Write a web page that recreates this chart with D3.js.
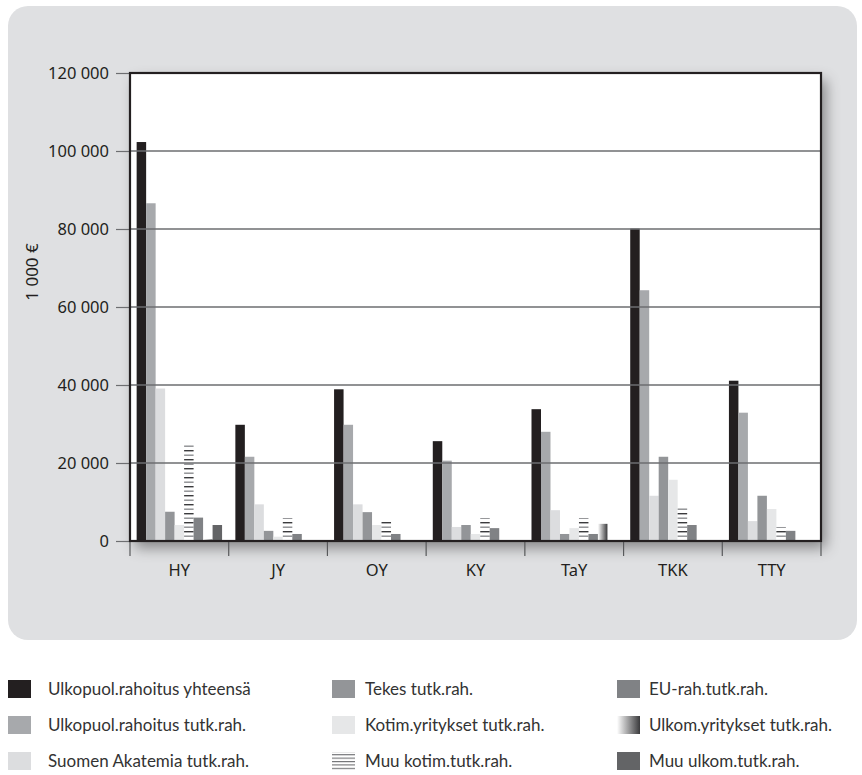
<!DOCTYPE html>
<html>
<head>
<meta charset="utf-8">
<script src="https://cdnjs.cloudflare.com/ajax/libs/d3/7.8.5/d3.min.js"></script>
<style>
  html, body { margin: 0; padding: 0; background: #ffffff; }
  svg { display: block; }
</style>
</head>
<body>
<svg id="chart" width="862" height="775"></svg>
<script>
// Universities (x categories)
const universities = ["HY", "JY", "OY", "KY", "TaY", "TKK", "TTY"];

// Funding sources, in drawing / legend order
const seriesNames = [
  "Ulkopuol.rahoitus yhteensä",
  "Ulkopuol.rahoitus tutk.rah.",
  "Suomen Akatemia tutk.rah.",
  "Tekes tutk.rah.",
  "Kotim.yritykset tutk.rah.",
  "Muu kotim.tutk.rah.",
  "EU-rah.tutk.rah.",
  "Ulkom.yritykset tutk.rah.",
  "Muu ulkom.tutk.rah."
];

// Values in 1 000 €, one array per funding source (HY, JY, OY, KY, TaY, TKK, TTY)
const ulkopuolYhteensa = [102300, 29800, 38900, 25600, 33800, 80100, 41100];
const ulkopuolTutk     = [86600, 21600, 29800, 20600, 28000, 64300, 32900];
const suomenAkatemia   = [39100, 9400, 9400, 3600, 7900, 11600, 5100];
const tekes            = [7500, 2600, 7400, 4100, 1800, 21600, 11600];
const kotimYritykset   = [4100, 1100, 4100, 1800, 3300, 15700, 8200];
const muuKotim         = [25100, 5900, 4900, 5900, 5900, 8500, 3600];
const euRah            = [6000, 1800, 1800, 3300, 1800, 4100, 2600];
const ulkomYritykset   = [400, 0, 0, 0, 4400, 0, 0];
const muuUlkom         = [4100, 0, 0, 0, 0, 0, 0];

const seriesValues = [
  ulkopuolYhteensa, ulkopuolTutk, suomenAkatemia, tekes, kotimYritykset,
  muuKotim, euRah, ulkomYritykset, muuUlkom
];

// Axis ticks
const yTicks = [0, 20000, 40000, 60000, 80000, 100000, 120000];
const yLabel = "1 000 €";

const svg = d3.select("#chart");
const defs = svg.append("defs");

// Horizontal line hatching for "Muu kotim."
const hatch = defs.append("pattern")
  .attr("id", "hatch").attr("patternUnits", "userSpaceOnUse")
  .attr("width", 12).attr("height", 9);
hatch.append("rect").attr("width", 12).attr("height", 9).attr("fill", "#ffffff");
hatch.append("rect").attr("y", 0).attr("width", 12).attr("height", 1.4).attr("fill", "#3b3b3d");
hatch.append("rect").attr("y", 4.5).attr("width", 12).attr("height", 1.4).attr("fill", "#8c8d90");

const hatchLegend = defs.append("pattern")
  .attr("id", "hatchLegend").attr("patternUnits", "userSpaceOnUse")
  .attr("width", 12).attr("height", 3.4);
hatchLegend.append("rect").attr("width", 12).attr("height", 3.4).attr("fill", "#ffffff");
hatchLegend.append("rect").attr("width", 12).attr("height", 1.1).attr("fill", "#6d6e71");

// White-to-dark gradient for "Ulkom.yritykset"
const grad = defs.append("linearGradient").attr("id", "ulkomGrad")
  .attr("x1", "0%").attr("x2", "100%").attr("y1", "0%").attr("y2", "0%");
grad.append("stop").attr("offset", "0%").attr("stop-color", "#ffffff");
grad.append("stop").attr("offset", "100%").attr("stop-color", "#3a3a3c");

// Soft shadow under the plot frame
const shadow = defs.append("filter").attr("id", "frameShadow")
  .attr("x", "-10%").attr("y", "-10%").attr("width", "130%").attr("height", "130%");
shadow.append("feDropShadow")
  .attr("dx", 5).attr("dy", 7).attr("stdDeviation", 7)
  .attr("flood-color", "#000000").attr("flood-opacity", 0.4);

const fills = [
  "#231f20", "#a7a9ac", "#dcdddf", "#939598", "#e6e7e8",
  "url(#hatch)", "#808285", "url(#ulkomGrad)", "#636466"
];
const legendFills = fills.slice();
legendFills[5] = "url(#hatchLegend)";

// Grey rounded panel behind the chart
svg.append("rect")
  .attr("x", 8).attr("y", 6).attr("width", 849).attr("height", 634)
  .attr("rx", 20).attr("ry", 20)
  .attr("fill", "#dfe0e2");

const plot = { left: 130, right: 821, top: 73, bottom: 541 };

const x0 = d3.scaleBand().domain(universities)
  .range([plot.left, plot.right]).paddingInner(0).paddingOuter(0);
const x1 = d3.scaleBand().domain(d3.range(seriesNames.length))
  .range([0, x0.bandwidth()]).paddingInner(0).paddingOuter(0.7);
const y = d3.scaleLinear().domain([0, 120000]).range([plot.bottom, plot.top]);

// Plot background with shadow
svg.append("rect")
  .attr("x", plot.left).attr("y", plot.top)
  .attr("width", plot.right - plot.left).attr("height", plot.bottom - plot.top)
  .attr("fill", "#ffffff")
  .attr("filter", "url(#frameShadow)");

// Bars
const groups = svg.append("g").selectAll("g")
  .data(universities)
  .join("g")
  .attr("transform", d => `translate(${x0(d)},0)`);

groups.selectAll("rect")
  .data((d, i) => seriesValues.map((vals, s) => ({ s, v: vals[i] })))
  .join("rect")
  .attr("x", d => x1(d.s))
  .attr("width", x1.bandwidth())
  .attr("y", d => y(d.v))
  .attr("height", d => y(0) - y(d.v))
  .attr("fill", d => fills[d.s]);

// Horizontal grid lines, drawn over the bars
svg.append("g").selectAll("line")
  .data(yTicks.filter(t => t > 0 && t < 120000))
  .join("line")
  .attr("x1", plot.left).attr("x2", plot.right)
  .attr("y1", d => y(d)).attr("y2", d => y(d))
  .attr("stroke", "#6d6e71").attr("stroke-width", 1.3);

// Y axis
const fmt = d3.formatLocale({ decimal: ",", thousands: "\u00a0", grouping: [3], currency: ["", " €"] }).format(",d");
const yAxis = d3.axisLeft(y).tickValues(yTicks).tickSize(14).tickPadding(7)
  .tickFormat(d => fmt(d));
const yG = svg.append("g").attr("transform", `translate(${plot.left},0)`).call(yAxis);
yG.select(".domain").remove();
yG.selectAll(".tick line").attr("stroke", "#6d6e71").attr("stroke-width", 1.2);
yG.selectAll(".tick text")
  .attr("fill", "#231f20")
  .style("font-family", "'Noto Sans', sans-serif")
  .style("font-size", "16.5px");

// X axis: ticks at group boundaries, labels centred under groups
const boundaries = universities.map(u => x0(u)).concat([plot.right]);
svg.append("g").selectAll("line")
  .data(boundaries)
  .join("line")
  .attr("x1", d => d).attr("x2", d => d)
  .attr("y1", plot.bottom).attr("y2", plot.bottom + 15)
  .attr("stroke", "#58595b").attr("stroke-width", 1.2);

svg.append("g").selectAll("text")
  .data(universities)
  .join("text")
  .attr("x", d => x0(d) + x0.bandwidth() / 2)
  .attr("y", 576)
  .attr("text-anchor", "middle")
  .attr("fill", "#231f20")
  .style("font-family", "'Noto Sans', sans-serif")
  .style("font-size", "16.5px")
  .text(d => d);

// Plot frame
svg.append("rect")
  .attr("x", plot.left).attr("y", plot.top)
  .attr("width", plot.right - plot.left).attr("height", plot.bottom - plot.top)
  .attr("fill", "none").attr("stroke", "#231f20").attr("stroke-width", 2.2);

// Y axis title
svg.append("text")
  .attr("transform", "translate(38,272) rotate(-90)")
  .attr("text-anchor", "middle")
  .attr("fill", "#231f20")
  .style("font-family", "'Noto Sans', sans-serif")
  .style("font-size", "17px")
  .text(yLabel);

// Legend: three columns, three rows
const legendCols = [8, 332, 617];
const legendTextX = [48, 365, 649];
const legendRows = [689, 725, 761];
const legend = svg.append("g").selectAll("g")
  .data(seriesNames)
  .join("g")
  .attr("transform", (d, i) => `translate(${legendCols[Math.floor(i / 3)]},${legendRows[i % 3]})`);

legend.append("rect")
  .attr("x", 0).attr("y", -9)
  .attr("width", 23).attr("height", 18)
  .attr("fill", (d, i) => legendFills[i]);

legend.append("text")
  .attr("x", (d, i) => legendTextX[Math.floor(i / 3)] - legendCols[Math.floor(i / 3)])
  .attr("y", 6)
  .attr("fill", "#333333")
  .style("font-family", "Lato, sans-serif")
  .style("font-size", "17px")
  .text(d => d);
</script>
</body>
</html>
